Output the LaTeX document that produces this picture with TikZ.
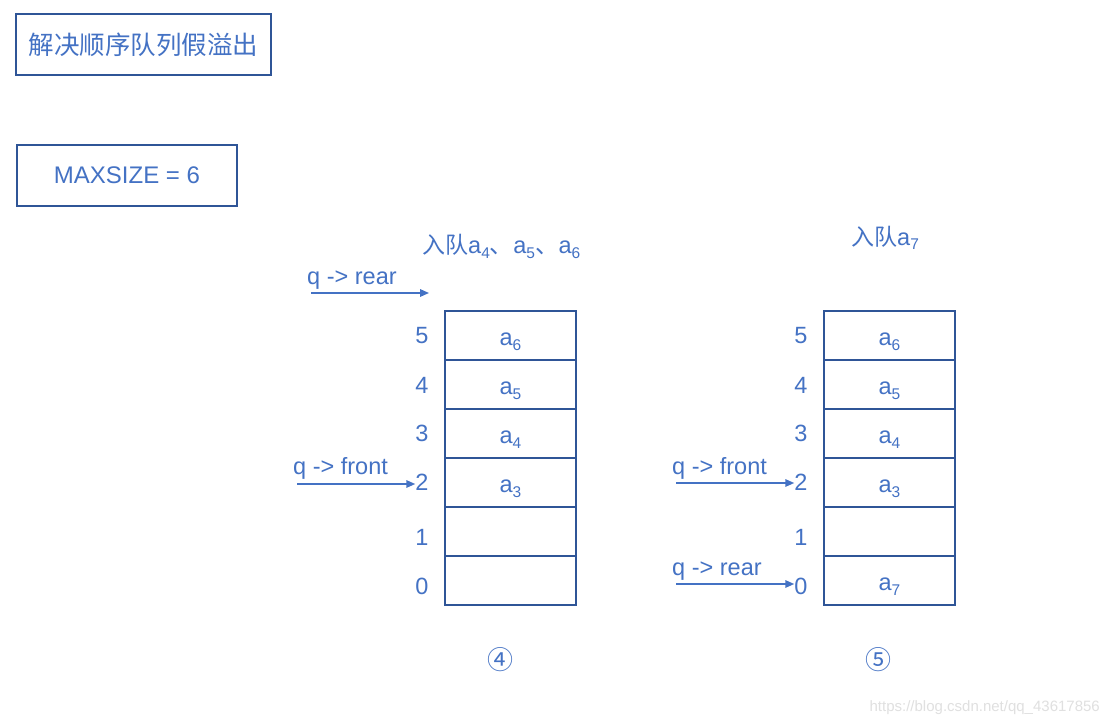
\documentclass[tikz,border=0pt]{standalone}
\usepackage{fontspec}
\setmainfont{Liberation Sans}
\newfontfamily\cjk{Noto Sans CJK SC}
\usetikzlibrary{arrows.meta}
\definecolor{txt}{HTML}{4472C4}
\definecolor{bord}{HTML}{2F5597}
\newcommand{\sbs}[1]{\raisebox{-5pt}{\fontsize{15.5}{15}\selectfont #1}}
\tikzset{
  lbl/.style={text=txt, font=\fontsize{23.5}{26}\selectfont, inner sep=0pt},
  idx/.style={text=txt, font=\fontsize{23.5}{26}\selectfont, inner sep=0pt},
  cell/.style={draw=bord, line width=1.6pt, minimum width=131pt, minimum height=49pt, inner sep=0pt,
    text height=23pt, text depth=4pt, text=txt, font=\fontsize{23.5}{26}\selectfont},
  titlebox/.style={draw=bord, line width=1.8pt, inner sep=0pt, text=txt},
  ptr/.style={draw=txt, line width=1.6pt, -{Triangle[length=9pt,width=7.5pt]}},
}
\begin{document}
\begin{tikzpicture}[x=1pt,y=-1pt]
\useasboundingbox[fill=white] (0,0) rectangle (1107,727);

\node[titlebox, minimum width=255pt, minimum height=61pt, font=\cjk\fontsize{25.5}{28}\selectfont] (title) at (143.5,44.5) {解决顺序队列假溢出};
\node[titlebox, minimum width=220pt, minimum height=61pt, font=\fontsize{24}{28}\selectfont] (maxs) at (127,175.5) {MAXSIZE = 6};

% queue 1
\node[lbl, anchor=base west] (h1) at (422,254) {{\cjk\fontsize{23}{26}\selectfont 入队}a\sbs{4}{\cjk 、}a\sbs{5}{\cjk 、}a\sbs{6}};
\foreach \i/\y/\c in {5/335.5/a\sbs{6},4/384.5/a\sbs{5},3/433.5/a\sbs{4},2/482.5/a\sbs{3},1/531.5/,0/580.5/}{
  \node[cell] (p\i) at (510.5,\y) {\c};
}
\foreach \i/\y in {5/335.5,4/385,3/433,2/482.5,1/537,0/586}{
  \node[idx] (n\i) at (422,\y) {\i};
}
\node[lbl, anchor=west] (rear1) at (307,280) {q -> rear};
\coordinate (r1s) at (311,293);
\coordinate (r1e) at (429,293);
\draw[ptr] (r1s) -- (r1e);
\node[lbl, anchor=west] (front1) at (293,468) {q -> front};
\coordinate (f1s) at (297,484);
\draw[ptr] (f1s) -- (n2.west |- f1s);
\node[text=txt, font=\cjk\fontsize{26}{30}\selectfont, inner sep=0pt] (c4) at (500,660) {④};

% queue 2
\node[lbl, anchor=base west] (h2) at (851,245) {{\cjk\fontsize{23}{26}\selectfont 入队}a\sbs{7}};
\foreach \i/\y/\c in {5/335.5/a\sbs{6},4/384.5/a\sbs{5},3/433.5/a\sbs{4},2/482.5/a\sbs{3},1/531.5/,0/580.5/a\sbs{7}}{
  \node[cell] (s\i) at (889.5,\y) {\c};
}
\foreach \i/\y in {5/335.5,4/385,3/433,2/482.5,1/537,0/586}{
  \node[idx] (m\i) at (801,\y) {\i};
}
\node[lbl, anchor=west] (front2) at (672,468) {q -> front};
\coordinate (f2s) at (676,483);
\draw[ptr] (f2s) -- (m2.west |- f2s);
\node[lbl, anchor=west] (rear2) at (672,571) {q -> rear};
\coordinate (r2s) at (676,584);
\draw[ptr] (r2s) -- (m0.west |- r2s);
\node[text=txt, font=\cjk\fontsize{26}{30}\selectfont, inner sep=0pt] (c5) at (878,660) {⑤};

\node[text=black!12, font=\fontsize{15}{18}\selectfont, anchor=east, inner sep=0pt] (wm) at (1100,708) {https://blog.csdn.net/qq\_43617856};
\end{tikzpicture}
\end{document}
